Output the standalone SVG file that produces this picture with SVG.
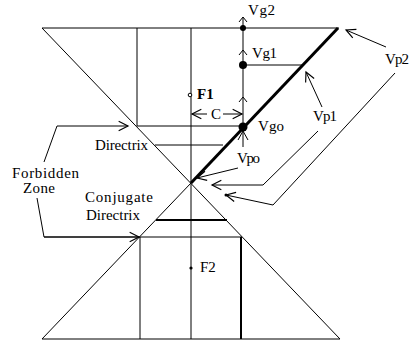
<svg xmlns="http://www.w3.org/2000/svg" width="410" height="344" viewBox="0 0 410 344">
<style>
.l{stroke:#000;stroke-width:1;fill:none}
.t{font-family:"Liberation Serif","Times New Roman",serif;font-size:15px;fill:#000}
.dot{fill:#000}
</style>
<defs>
<marker id="ah" markerUnits="userSpaceOnUse" markerWidth="14" markerHeight="14" refX="0" refY="0" viewBox="-10 -6 12 12" orient="auto" overflow="visible">
<path d="M-8,-4 L0,0 L-8,4" stroke="#000" stroke-width="1" fill="none"/>
</marker>
</defs>
<rect width="410" height="344" fill="#fff"/>
<g id="connectors">
<line class="l" x1="42" y1="28" x2="339" y2="28"/>
<line class="l" x1="42" y1="339" x2="340" y2="339"/>
<line class="l" x1="42" y1="28" x2="340" y2="339"/>
<line class="l" x1="42" y1="339" x2="191" y2="183"/>
<line x1="191" y1="183" x2="338" y2="28" stroke="#000" stroke-width="3"/>
<line class="l" x1="191" y1="28" x2="191" y2="339"/>
<line class="l" x1="137" y1="28" x2="137" y2="126"/>
<line class="l" x1="137" y1="126" x2="243" y2="126"/>
<line class="l" x1="155" y1="145" x2="223" y2="145"/>
<line x1="156" y1="220" x2="227" y2="220" stroke="#000" stroke-width="2"/>
<line class="l" x1="44" y1="237" x2="242" y2="237"/>
<line class="l" x1="140" y1="237" x2="140" y2="339"/>
<line x1="241" y1="237" x2="241" y2="339" stroke="#000" stroke-width="2"/>
<line class="l" x1="243" y1="17" x2="243" y2="127"/>
<line class="l" x1="243" y1="65" x2="303" y2="65"/>
<path class="l" d="M239,22 L243,17 L247,22 M239,55 L243,50 L247,55 M239,102 L243,97 L247,102"/>
<path class="l" d="M243,147 L243,131 M238,140 L243,131 L248,140"/>
<line class="l" x1="207" y1="114" x2="192" y2="114" marker-end="url(#ah)"/>
<line class="l" x1="223" y1="114" x2="242" y2="114" marker-end="url(#ah)"/>
<polyline class="l" points="44,162 57,126 128,126" marker-end="url(#ah)"/>
<polyline class="l" points="37,198 44,237 139,237" marker-end="url(#ah)"/>
<line class="l" x1="386" y1="47" x2="346" y2="30" marker-end="url(#ah)"/>
<line class="l" x1="322" y1="107" x2="306" y2="72" marker-end="url(#ah)"/>
<polyline class="l" points="318,131 263,185 212,185" marker-end="url(#ah)"/>
<polyline class="l" points="395,73 273,205 226,195" marker-end="url(#ah)"/>
<line class="l" x1="238" y1="168" x2="197" y2="178" marker-end="url(#ah)"/>
</g>
<g id="F1"><circle cx="190" cy="95" r="1.8" fill="#fff" stroke="#000" stroke-width="1"/><text class="t" x="197" y="99" font-weight="bold" font-size="14">F1</text></g>
<g id="F2"><circle class="dot" cx="191" cy="268" r="1.6"/><text class="t" x="200" y="272" font-family="Liberation Sans, Arial, sans-serif" font-size="13">F2</text></g>
<g id="C"><text class="t" x="211" y="119">C</text></g>
<g id="Vg2"><circle class="dot" cx="243" cy="28" r="3"/><text class="t" x="248" y="15" textLength="27">Vg2</text></g>
<g id="Vg1"><circle class="dot" cx="243" cy="65" r="4"/><text class="t" x="252" y="58" textLength="25">Vg1</text></g>
<g id="Vgo"><circle class="dot" cx="243" cy="127" r="4.5"/><text class="t" x="258" y="131" textLength="26">Vgo</text></g>
<g id="Vpo"><circle class="dot" cx="226" cy="195" r="1.5"/><text class="t" x="237" y="163" textLength="23">Vpo</text></g>
<g id="Vp1"><text class="t" x="313" y="121" textLength="24">Vp1</text></g>
<g id="Vp2"><text class="t" x="385" y="64" textLength="24">Vp2</text></g>
<g id="ForbiddenZone"><text class="t" x="12" y="178" textLength="67">Forbidden</text><text class="t" x="23" y="193" textLength="32">Zone</text></g>
<g id="Directrix"><text class="t" x="95" y="150" textLength="53">Directrix</text></g>
<g id="ConjugateDirectrix"><text class="t" x="85" y="202" textLength="68">Conjugate</text><text class="t" x="86" y="220" textLength="54">Directrix</text></g>
</svg>
